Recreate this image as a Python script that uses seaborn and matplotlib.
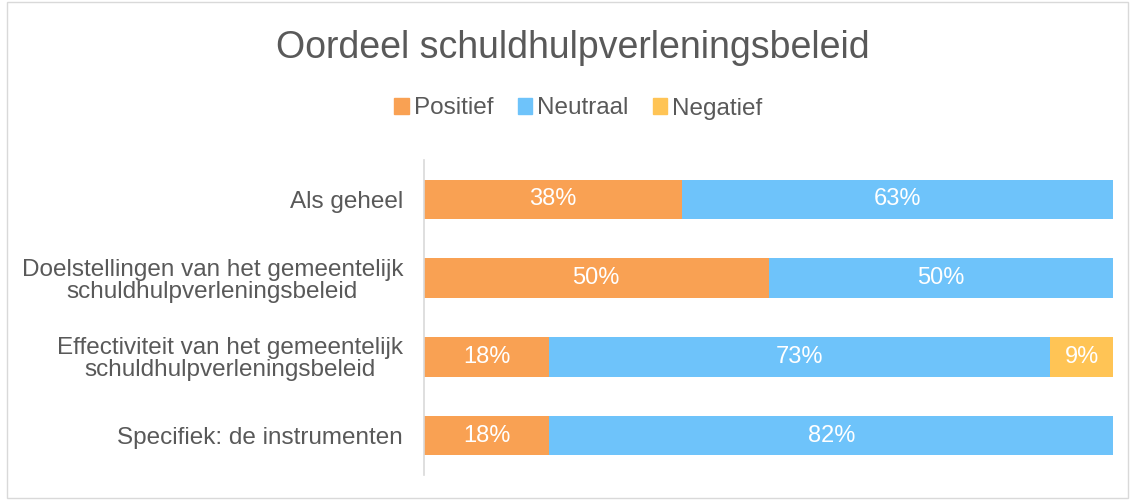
import numpy as np
import pandas as pd
import matplotlib
matplotlib.use("Agg")
import matplotlib.pyplot as plt
import seaborn as sns
from matplotlib.patches import Rectangle

categories = ["Als geheel",
              "Doelstellingen van het gemeentelijk\nschuldhulpverleningsbeleid",
              "Effectiviteit van het gemeentelijk\nschuldhulpverleningsbeleid",
              "Specifiek: de instrumenten"]
positief = [37.5, 50.0, 18.2, 18.2]
neutraal = [62.5, 50.0, 72.7, 81.8]
negatief = [0.0, 0.0, 9.1, 0.0]

series = ["Positief", "Neutraal", "Negatief"]
colors = {"Positief": "#F9A153", "Neutraal": "#6EC3FA", "Negatief": "#FFC455"}
grey = "#595959"

sns.set_style("white")
plt.rcParams['font.family'] = ['Liberation Sans', 'DejaVu Sans']

df = pd.DataFrame({"cat": categories, "Positief": positief,
                   "Neutraal": neutraal, "Negatief": negatief})
df["c1"] = df["Positief"]
df["c2"] = df["Positief"] + df["Neutraal"]
df["c3"] = df["c2"] + df["Negatief"]

fig = plt.figure(figsize=(11.34, 5), dpi=100)
ax = fig.add_axes([0.3739, 0.05, 0.6076, 0.63])

# gestapeld: eerst totaal, dan cumulatief eroverheen
for col, name in [("c3", "Negatief"), ("c2", "Neutraal"), ("c1", "Positief")]:
    sns.barplot(data=df, y="cat", x=col, color=colors[name], orient="h",
                width=0.5, saturation=1, linewidth=0, ax=ax)

# labels in de segmenten (afronden zoals Excel: .5 naar boven)
for i in range(len(categories)):
    start = 0
    for name in series:
        v = df.loc[i, name]
        if v > 0:
            ax.text(start + v / 2, i, f"{int(v + 0.5)}%",
                    ha="center", va="center", color="white", fontsize=17)
        start += v

ax.set_xlim(0, 100)
ax.set_ylim(3.5, -0.5)
ax.set_xlabel("")
ax.set_ylabel("")
ax.set_xticks([])
ax.tick_params(axis="y", length=0, pad=15, labelsize=17.5, labelcolor=grey)
for s in ["top", "right", "bottom"]:
    ax.spines[s].set_visible(False)
ax.spines["left"].set_color("#D9D9D9")
ax.spines["left"].set_linewidth(1.2)
for lab in ax.get_yticklabels():
    lab.set_horizontalalignment("right")
    lab.set_multialignment("center")
    lab.set_linespacing(1.0)

fig.text(0.505, 0.903, "Oordeel schuldhulpverleningsbeleid", ha="center", va="center",
         fontsize=27, color=grey)

handles = [Rectangle((0, 0), 1, 1, color=colors[n]) for n in series]
fig.legend(handles, series, loc="center", bbox_to_anchor=(0.51, 0.783), ncol=3,
           frameon=False, fontsize=17.5, labelcolor=grey, handlelength=0.6,
           handleheight=0.6, handletextpad=0.2, columnspacing=1.0)

fig.patches.append(Rectangle((0.006, 0.004), 0.989, 0.992, transform=fig.transFigure,
                             fill=False, edgecolor="#D9D9D9", linewidth=1))

fig.savefig("out.png", dpi=100)
